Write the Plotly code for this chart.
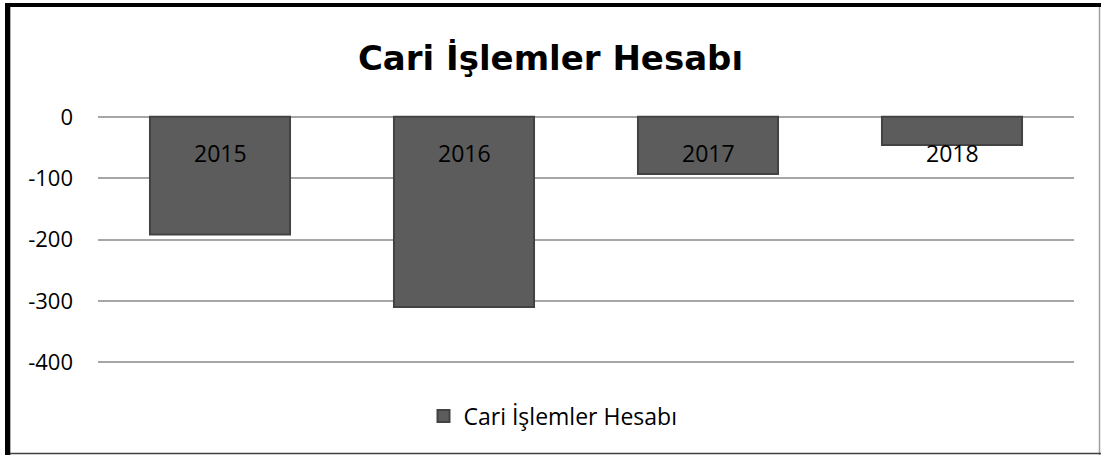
import plotly.graph_objects as go

categories = ["2015", "2016", "2017", "2018"]
values = [-192, -310, -93, -46]
series_name = "Cari İşlemler Hesabı"
title_text = "Cari İşlemler Hesabı"
y_ticks = [0, -100, -200, -300, -400]

W, H = 1101, 455
ml, mr, mt, mb = 98, 27, 115, 91
pw, ph = W - ml - mr, H - mt - mb

def px(x):
    return (x - ml) / pw

def py(y):
    return (H - mb - y) / ph

font_family = "Open Sans, Lato, DejaVu Sans, sans-serif"

fig = go.Figure()
fig.add_trace(go.Bar(
    x=categories, y=values, name=series_name,
    marker=dict(color="#5c5c5c", line=dict(color="#434343", width=2)),
    width=0.574, showlegend=True,
))

for i, c in enumerate(categories):
    fig.add_annotation(x=i, y=0, text=c, showarrow=False, yanchor="middle",
                       yshift=-36, font=dict(size=23, color="#000000", family=font_family))

shapes = [
    dict(type="line", xref="paper", yref="paper", x0=px(7.5), x1=px(7.5), y0=py(3), y1=py(455),
         line=dict(color="#000000", width=5)),
    dict(type="line", xref="paper", yref="paper", x0=px(10.5), x1=px(10.5), y0=py(7), y1=py(455),
         line=dict(color="#b0b0b0", width=1)),
    dict(type="line", xref="paper", yref="paper", x0=px(5), x1=px(1101), y0=py(5), y1=py(5),
         line=dict(color="#000000", width=4)),
    dict(type="line", xref="paper", yref="paper", x0=px(1099.5), x1=px(1099.5), y0=py(7), y1=py(455),
         line=dict(color="#a0a0a0", width=1.5)),
    dict(type="line", xref="paper", yref="paper", x0=px(10), x1=px(1101), y0=py(453.5), y1=py(453.5),
         line=dict(color="#404040", width=1.5)),
]

fig.update_layout(
    width=W, height=H,
    margin=dict(l=ml, r=mr, t=mt, b=mb),
    paper_bgcolor="white", plot_bgcolor="white",
    title=dict(text="<b>" + title_text + "</b>", x=0.5, xanchor="center", xref="container",
               y=1 - 58 / H, yanchor="middle", yref="container",
               font=dict(size=34, color="#000000", family="DejaVu Sans, sans-serif")),
    xaxis=dict(type="category", range=[-0.5, len(categories) - 0.5], showticklabels=False,
               showgrid=False, zeroline=False, showline=False, ticks=""),
    yaxis=dict(range=[-403, 3], tickvals=y_ticks, ticktext=[str(t) for t in y_ticks],
               showgrid=True, gridcolor="#a6a6a6", gridwidth=1.5, zeroline=False,
               showline=False, ticks="", ticklen=0, ticklabelstandoff=24,
               tickfont=dict(size=22, color="#000000", family=font_family)),
    showlegend=True,
    legend=dict(orientation="h", x=0.5 - 33 / pw, xanchor="center", y=py(416), yanchor="middle",
                font=dict(size=23, color="#000000", family=font_family),
                bgcolor="rgba(0,0,0,0)"),
    shapes=shapes,
)
fig.update_yaxes(automargin=False)
fig.update_xaxes(automargin=False)

fig.write_html("out.html", config={"displayModeBar": False},
               post_script="document.body.style.margin='0';document.body.style.padding='0';")
